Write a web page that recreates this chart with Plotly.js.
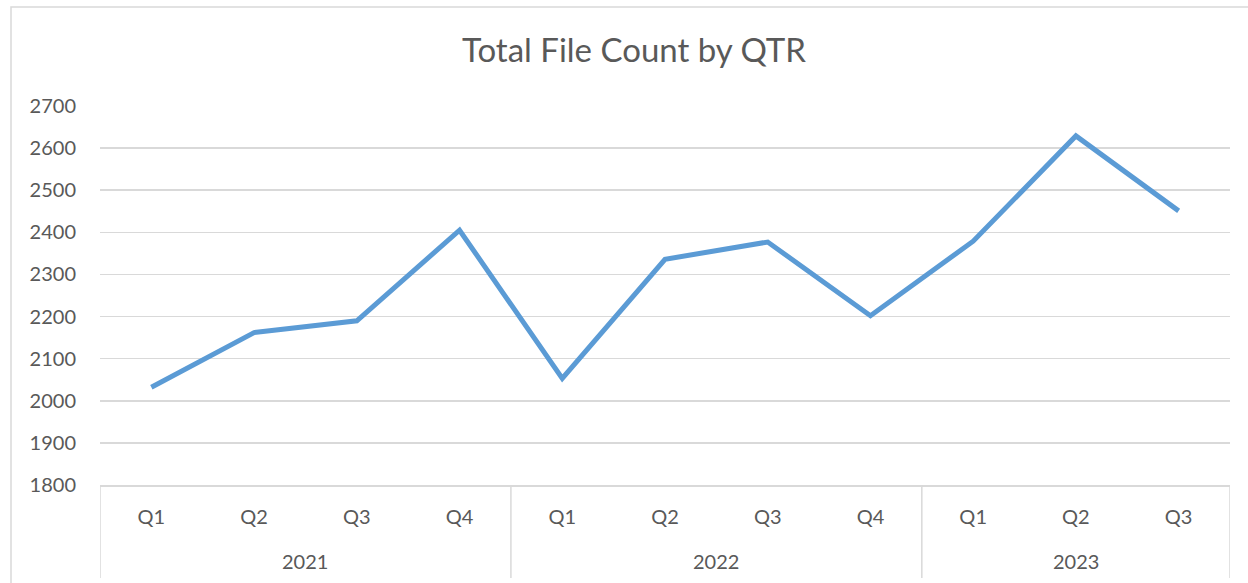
<!DOCTYPE html>
<html>
<head>
<meta charset="utf-8">
<script src="https://cdn.plot.ly/plotly-3.0.1.min.js"></script>
<style>
  html, body { margin: 0; padding: 0; background: #ffffff; }
  #chart { width: 1248px; height: 583px; }
</style>
</head>
<body>
<div id="chart"></div>
<script>
const years = ["2021", "2021", "2021", "2021", "2022", "2022", "2022", "2022", "2023", "2023", "2023"];
const quarters = ["Q1", "Q2", "Q3", "Q4", "Q1", "Q2", "Q3", "Q4", "Q1", "Q2", "Q3"];
const fileCounts = [2032, 2162, 2190, 2405, 2053, 2336, 2377, 2202, 2379, 2629, 2451];
const yTicks = [1800, 1900, 2000, 2100, 2200, 2300, 2400, 2500, 2600, 2700];
const chartTitle = "Total File Count by QTR";

const FONT = "Lato, 'Open Sans', sans-serif";
const TXT = "#595959";
const GRID = "#d9d9d9";

// unique category keys for each quarter, labelled by quarter only
const keys = quarters.map((q, i) => q + " " + years[i]);

// group years: start/end index of each
const groups = [];
years.forEach((y, i) => {
  const g = groups[groups.length - 1];
  if (g && g.year === y) g.end = i;
  else groups.push({ year: y, start: i, end: i });
});

const PLOT_TOP = 106, PLOT_BOTTOM = 485;
const plotH = PLOT_BOTTOM - PLOT_TOP;
const pyY = px => (PLOT_BOTTOM - px) / plotH;

const trace = {
  type: "scatter",
  mode: "lines",
  x: keys,
  y: fileCounts,
  line: { color: "#5b9bd5", width: 5, shape: "linear" },
  hoverinfo: "x+y"
};

const shapes = [
  {
    type: "rect",
    xref: "paper", yref: "paper",
    x0: (11 - 100) / 1130, x1: (1260 - 100) / 1130,
    y0: pyY(600), y1: pyY(7),
    line: { color: GRID, width: 1.5 },
    fillcolor: "rgba(0,0,0,0)",
    layer: "below"
  }
];
const dividerPos = [groups[0].start - 0.5].concat(groups.map(g => g.end + 0.5));
dividerPos.forEach(xv => {
  shapes.push({
    type: "line",
    xref: "x", yref: "paper",
    x0: xv, x1: xv,
    y0: 0, y1: pyY(578),
    line: { color: GRID, width: 1.5 }
  });
});

const annotations = groups.map(g => ({
  xref: "x", yref: "paper",
  x: (g.start + g.end) / 2,
  y: pyY(561),
  yanchor: "middle", xanchor: "center",
  text: g.year,
  showarrow: false,
  font: { family: FONT, size: 20, color: TXT }
}));

const layout = {
  width: 1248,
  height: 583,
  margin: { l: 100, r: 18, t: PLOT_TOP, b: 583 - PLOT_BOTTOM, pad: 0 },
  paper_bgcolor: "#ffffff",
  plot_bgcolor: "#ffffff",
  showlegend: false,
  font: { family: FONT, color: TXT },
  title: {
    text: chartTitle,
    font: { family: FONT, size: 33, color: TXT },
    x: 0.508, xanchor: "center", xref: "container",
    y: 0.914, yanchor: "middle", yref: "container"
  },
  xaxis: {
    type: "category",
    categoryorder: "array",
    categoryarray: keys,
    tickvals: keys,
    ticktext: quarters,
    range: [-0.5, keys.length - 0.5],
    showgrid: false,
    zeroline: false,
    showline: true,
    linecolor: GRID,
    linewidth: 1.5,
    ticks: "",
    tickfont: { family: FONT, size: 20, color: TXT },
    ticklabelstandoff: 13
  },
  yaxis: {
    range: [1800, 2700],
    tickvals: yTicks,
    ticktext: yTicks.map(String),
    showgrid: true,
    gridcolor: GRID,
    gridwidth: 1.5,
    zeroline: false,
    showline: false,
    ticks: "",
    tickfont: { family: FONT, size: 20, color: TXT },
    ticklabelstandoff: 23
  },
  shapes: shapes,
  annotations: annotations
};

Plotly.newPlot("chart", [trace], layout, { displayModeBar: false, staticPlot: true });
</script>
</body>
</html>
